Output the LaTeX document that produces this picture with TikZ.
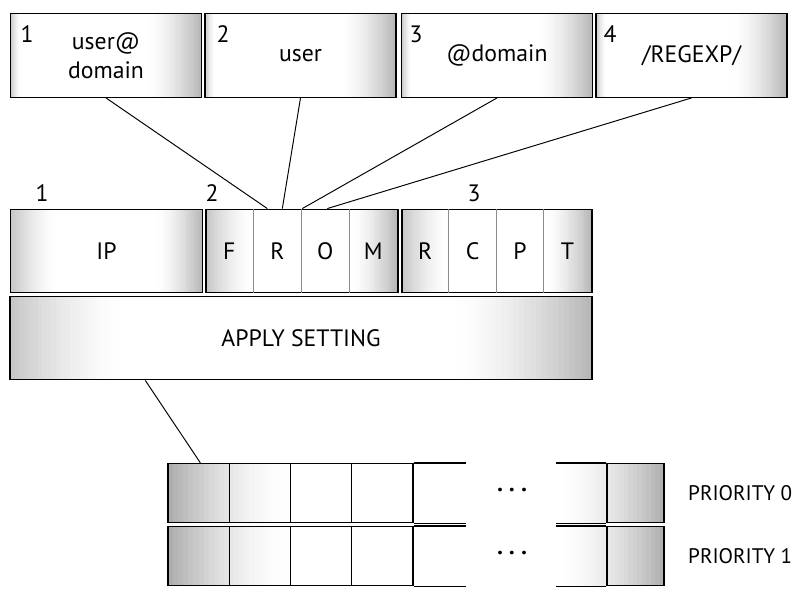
\documentclass[tikz,border=0pt]{standalone}
\usepackage{fontspec}
\setmainfont{PT Sans}
\usetikzlibrary{calc}
\tikzset{
  rims/.style 2 args={path picture={
    \foreach \k [evaluate=\k as \e using \k+1.3,evaluate=\k as \c using {22*(1-\k/24)^1.5},evaluate=\k as \d using {28*(1-\k/24)^1.5}] in {0,...,23}{
      \fill[black!\c] ([xshift=\k*#1/24]path picture bounding box.south west) rectangle ([xshift=\e*#1/24]path picture bounding box.north west);
      \fill[black!\d] ([xshift=-\k*#2/24]path picture bounding box.north east) rectangle ([xshift=-\e*#2/24]path picture bounding box.south east);
    }}},
  box/.style={draw,line width=.8pt,inner sep=0pt,minimum height=1.67cm},
  srcbox/.style={box,rims={.2cm}{1.05cm},minimum width=3.82cm,align=center},
  keybox/.style={box,rims={.9cm}{.9cm},minimum width=3.84cm},
  cell/.style={draw,line width=.8pt,minimum width=1.225cm,minimum height=1.18cm,inner sep=0pt},
  wire/.style={line width=.55pt},
  divline/.style={draw=black!45,line width=.4pt},
  bigtxt/.style={font=\fontsize{13.5}{16.5}\selectfont},
  smalltxt/.style={font=\fontsize{12}{14}\selectfont}
}
\begin{document}
\begin{tikzpicture}[x=.02cm,y=.02cm]
\useasboundingbox (0,0) rectangle (800,600);
\node[srcbox,bigtxt] (usrdom) at(106,544.5){user@\\domain};
\node[srcbox,bigtxt] (usr) at(300.5,544.5){user};
\node[srcbox,bigtxt] (dom) at(497,544.5){@domain};
\node[srcbox,bigtxt] (rgx) at(691.5,544.5){/REGEXP/};
\node[bigtxt] (t1) at(27,566){1};
\node[bigtxt] (t2) at(223,566){2};
\node[bigtxt] (t3) at(416,566){3};
\node[bigtxt] (t4) at(610,566){4};
\node[keybox,bigtxt] (ip) at(106.5,349){IP};
\node[keybox] (from) at(302,349){};
\node[keybox,minimum width=3.8cm] (rcpt) at(497,349){};
\foreach \c [count=\i] in {F,R,O,M}
  \node[bigtxt] (f\i) at($(from.west)+(48*\i-24,0)$){\c};
\foreach \c [count=\i] in {R,C,P,T}
  \node[bigtxt] (r\i) at($(rcpt.west)+(47.5*\i-23.75,0)$){\c};
\foreach \i in {1,2,3}{
  \draw[divline] ($(from.north west)+(48*\i,0)$)--($(from.south west)+(48*\i,0)$);
  \draw[divline] ($(rcpt.north west)+(47.5*\i,0)$)--($(rcpt.south west)+(47.5*\i,0)$);
}
\node[bigtxt] (g1) at(42,407){1};
\node[bigtxt] (g2) at(212,407){2};
\node[bigtxt] (g3) at(474,407){3};
\node[box,rims={2.2cm}{2.7cm},minimum width=11.64cm,bigtxt] (apply) at(301,262){APPLY SETTING};
\foreach \s/\d [count=\i] in {usrdom/62,usr/77,dom/97,rgx/122}{
  \coordinate (m\i) at($(from.north west)+(\d,0)$);
  \draw[wire] (\s.south)--(m\i);
}
\foreach \r/\y in {0/107,1/44}{
  \foreach \k [evaluate=\k as \a using {168+\k*122/24},evaluate=\k as \b using {168+(\k+1.3)*122/24},
               evaluate=\k as \u using {664-\k*107/24},evaluate=\k as \v using {664-(\k+1.3)*107/24},
               evaluate=\k as \c using {32*(1-\k/24)^1.8},evaluate=\k as \d using {31*(1-\k/24)^1.8}] in {0,...,23}{
    \fill[black!\c] (\a,\y-29.5) rectangle (\b,\y+29.5);
    \fill[black!\d] (\u,\y-29.5) rectangle (\v,\y+29.5);
  }
  \foreach \i in {1,...,4}
    \node[cell] (q\r-\i) at(137.375+61.25*\i,\y){};
  \draw[line width=.8pt] (q\r-4.north east)--++(52,0);
  \draw[line width=.8pt] (q\r-4.south east)--++(52,0);
  \node[cell,minimum width=1.14cm] (qe\r) at(635.5,\y){};
  \draw[line width=.8pt] (qe\r.north west)--++(-50,0);
  \draw[line width=.8pt] (qe\r.south west)--++(-50,0);
  \node[bigtxt] (dots\r) at(512,\y){\textbf{· · ·}};
  \node[smalltxt,anchor=west] (p\r) at(682,\y){PRIORITY \r};
}
\coordinate (ap) at($(apply.south west)+(136,0)$);
\coordinate (qin) at($(q0-1.north west)+(33,0)$);
\draw[wire] (ap)--(qin);
\end{tikzpicture}
\end{document}
